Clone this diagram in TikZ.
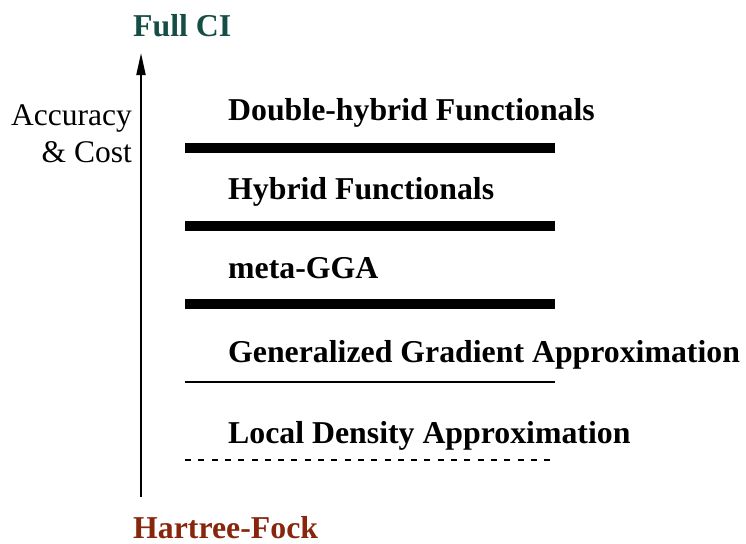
\documentclass[tikz,border=0pt]{standalone}
\usepackage{fontspec}
\setmainfont{Liberation Serif}
\usetikzlibrary{arrows.meta}
\definecolor{ciTeal}{RGB}{22,78,70}
\definecolor{hfRed}{RGB}{135,38,12}
\begin{document}
\begin{tikzpicture}[x=1pt,y=-1pt,
  lbl/.style={anchor=base west,inner sep=0pt,font=\fontsize{31.8}{36}\selectfont\bfseries},
  thickbar/.style={line width=10.5pt},
  thinbar/.style={line width=2pt},
  dashbar/.style={line width=2pt,dash pattern=on 6pt off 7.3pt}]
\useasboundingbox (0,0) rectangle (746,543);
\node[lbl,text=ciTeal] (fci) at (133,37) {Full CI};
\node[lbl,text=hfRed,text depth=0pt] (hf) at (133,538) {Hartree-Fock};
\coordinate (abot) at (141,497);
\coordinate (atop) at (141,53);
\draw[line width=2pt,-{Triangle[length=22pt,width=9pt]}] (abot) -- (atop);
\node[anchor=base east,inner sep=0pt,align=right,font=\fontsize{31.5}{37}\selectfont] (acc) at (132,162) {Accuracy\\\& Cost};
\node[lbl] (dh) at (228,120) {Double-hybrid Functionals};
\node[lbl] (hy) at (228,199) {Hybrid Functionals};
\node[lbl] (mg) at (228,278) {meta-GGA};
\node[lbl] (gga) at (228,362) {Generalized Gradient Approximation};
\node[lbl] (lda) at (228,443) {Local Density Approximation};
\coordinate (l1a) at (185,148); \coordinate (l1b) at (555,148);
\coordinate (l2a) at (185,226); \coordinate (l2b) at (555,226);
\coordinate (l3a) at (185,304); \coordinate (l3b) at (555,304);
\coordinate (l4a) at (185,382); \coordinate (l4b) at (555,382);
\coordinate (l5a) at (185,460); \coordinate (l5b) at (555,460);
\draw[thickbar] (l1a) -- (l1b);
\draw[thickbar] (l2a) -- (l2b);
\draw[thickbar] (l3a) -- (l3b);
\draw[thinbar] (l4a) -- (l4b);
\draw[dashbar] (l5a) -- (l5b);
\end{tikzpicture}
\end{document}
